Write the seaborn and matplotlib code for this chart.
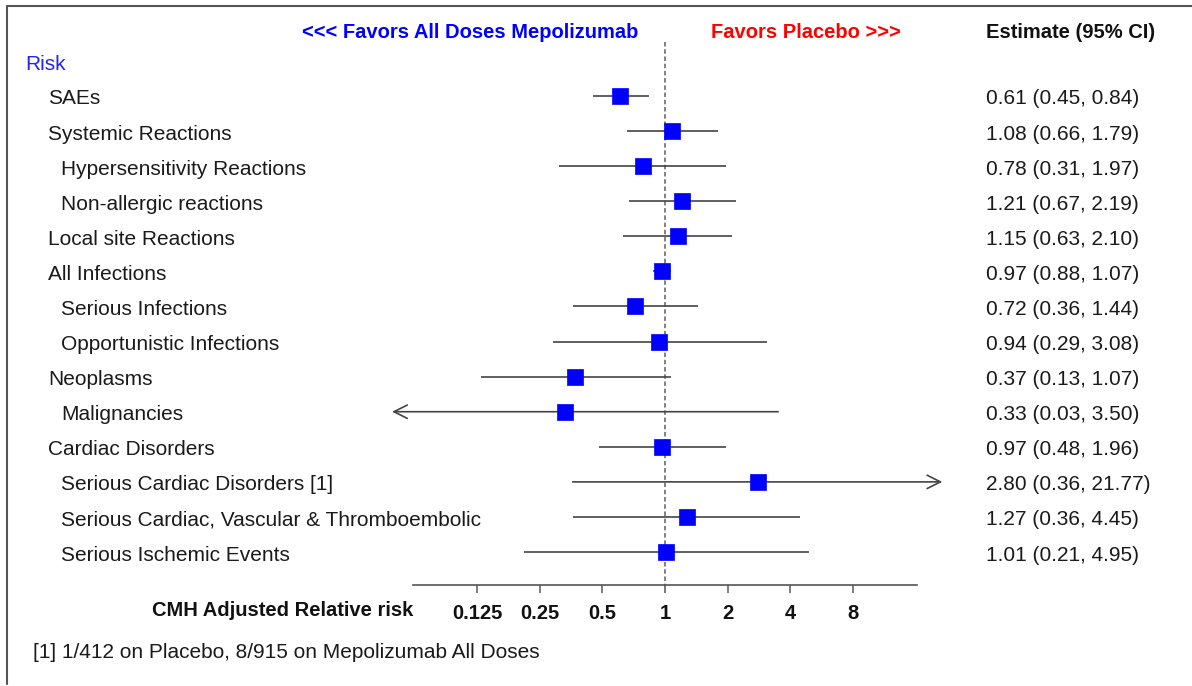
import numpy as np
import pandas as pd
import matplotlib
matplotlib.use("Agg")
import matplotlib.pyplot as plt
import seaborn as sns
from matplotlib.transforms import blended_transform_factory
from matplotlib.lines import Line2D

# ---- data ----
labels = ["SAEs", "Systemic Reactions", "Hypersensitivity Reactions", "Non-allergic reactions",
          "Local site Reactions", "All Infections", "Serious Infections", "Opportunistic Infections",
          "Neoplasms", "Malignancies", "Cardiac Disorders", "Serious Cardiac Disorders [1]",
          "Serious Cardiac, Vascular & Thromboembolic", "Serious Ischemic Events"]
levels = [1, 1, 2, 2, 1, 1, 2, 2, 1, 2, 1, 2, 2, 2]
estimates = [0.61, 1.08, 0.78, 1.21, 1.15, 0.97, 0.72, 0.94, 0.37, 0.33, 0.97, 2.80, 1.27, 1.01]
lower = [0.45, 0.66, 0.31, 0.67, 0.63, 0.88, 0.36, 0.29, 0.13, 0.03, 0.48, 0.36, 0.36, 0.21]
upper = [0.84, 1.79, 1.97, 2.19, 2.10, 1.07, 1.44, 3.08, 1.07, 3.50, 1.96, 21.77, 4.45, 4.95]
tick_values = [0.125, 0.25, 0.5, 1, 2, 4, 8]
tick_labels = ["0.125", "0.25", "0.5", "1", "2", "4", "8"]

df = pd.DataFrame({"label": labels, "level": levels, "est": estimates,
                   "lo": lower, "hi": upper})
df["row"] = np.arange(len(df))

sns.set_style("white")
plt.rcParams["font.family"] = ["Liberation Sans", "DejaVu Sans"]

W, H = 1192, 686
fig = plt.figure(figsize=(W / 100, H / 100), dpi=100)

# axes in pixel geometry
ax_l, ax_r, ax_t, ax_b = 380, 960, 30, 585
ax = fig.add_axes([ax_l / W, 1 - ax_b / H, (ax_r - ax_l) / W, (ax_b - ax_t) / H])
ax.set_xscale("log", base=2)
px_per_oct = 62.6
x0 = 665
ax.set_xlim(2 ** ((ax_l - x0) / px_per_oct), 2 ** ((ax_r - x0) / px_per_oct))
row0, rowsp = 96, 35.08
ax.set_ylim((ax_b - row0) / rowsp, (ax_t - row0) / rowsp)

clip_lo, clip_hi = 2 ** -4.36, 2 ** 4.43
line_col = "#444444"

# reference line
ax.vlines(1, (42 - row0) / rowsp, (592 - row0) / rowsp, colors="#777777",
          linestyles=(0, (2.5, 1.5)), lw=1.3, clip_on=False, zorder=1)

for _, r in df.iterrows():
    lo = max(r.lo, clip_lo)
    hi = min(r.hi, clip_hi)
    if r.lo < clip_lo:
        ax.annotate("", xy=(lo, r.row), xytext=(hi, r.row),
                    arrowprops=dict(arrowstyle="->", lw=1.2, color=line_col,
                                    mutation_scale=24, shrinkA=0, shrinkB=0),
                    annotation_clip=False)
    elif r.hi > clip_hi:
        ax.annotate("", xy=(hi, r.row), xytext=(lo, r.row),
                    arrowprops=dict(arrowstyle="->", lw=1.2, color=line_col,
                                    mutation_scale=24, shrinkA=0, shrinkB=0),
                    annotation_clip=False)
    else:
        ax.hlines(r.row, lo, hi, colors=line_col, lw=1.2, zorder=2)

sns.scatterplot(data=df, x="est", y="row", marker="s", s=135, color="#0000ff",
                edgecolor="#0000ff", linewidth=0.5, ax=ax, zorder=3, legend=False)

# axis styling
for s in ["top", "right", "left"]:
    ax.spines[s].set_visible(False)
ax.spines["bottom"].set_bounds(2 ** ((413 - x0) / px_per_oct), 2 ** ((917 - x0) / px_per_oct))
ax.spines["bottom"].set_color("#555555")
ax.spines["bottom"].set_linewidth(1.2)
ax.set_xticks(tick_values)
ax.set_xticklabels(tick_labels, fontsize=14.5, fontweight="bold", color="#111111")
ax.minorticks_off()
ax.tick_params(axis="x", direction="out", length=6, width=1.2, color="#666666",
               pad=8, bottom=True)
ax.set_yticks([])
ax.set_xlabel("")
ax.set_ylabel("")
ax.patch.set_alpha(0)

# row labels and estimates
tr = blended_transform_factory(fig.transFigure, ax.transData)
txt_col = "#1a1a1a"
fs = 15
dy = 3 / rowsp
for _, r in df.iterrows():
    xl = 48 if r.level == 1 else 61
    ax.text(xl / W, r.row + dy, r.label, transform=tr, ha="left", va="center",
            fontsize=fs, color=txt_col)
    ax.text(986 / W, r.row + dy, f"{r.est:.2f} ({r.lo:.2f}, {r.hi:.2f})", transform=tr,
            ha="left", va="center", fontsize=fs, color=txt_col)
ax.text(25 / W, (65 - row0) / rowsp, "Risk", transform=tr, ha="left", va="center",
        fontsize=fs, color="#2222ff")

# headers
hy = 1 - 33 / H
fig.text(638 / W, hy, "<<< Favors All Doses Mepolizumab", ha="right", va="center",
         fontsize=14.5, fontweight="bold", color="#0000ff")
fig.text(711 / W, hy, "Favors Placebo >>>", ha="left", va="center",
         fontsize=14.5, fontweight="bold", color="#ff0000")
fig.text(986 / W, hy, "Estimate (95% CI)", ha="left", va="center",
         fontsize=14.5, fontweight="bold", color="#111111")
fig.text(413 / W, 1 - 610 / H, "CMH Adjusted Relative risk", ha="right", va="center",
         fontsize=14.5, fontweight="bold", color="#111111")
fig.text(33 / W, 1 - 652 / H, "[1] 1/412 on Placebo, 8/915 on Mepolizumab All Doses",
         ha="left", va="center", fontsize=fs, color=txt_col)

# frame lines
fig.add_artist(Line2D([7 / W, 7 / W], [1 - 6 / H, 1 - 684 / H], transform=fig.transFigure,
                      color="#555555", lw=1.5))
fig.add_artist(Line2D([7 / W, 1.0], [1 - 6 / H, 1 - 6 / H], transform=fig.transFigure,
                      color="#555555", lw=1.5))

fig.savefig("out.png", dpi=100)
